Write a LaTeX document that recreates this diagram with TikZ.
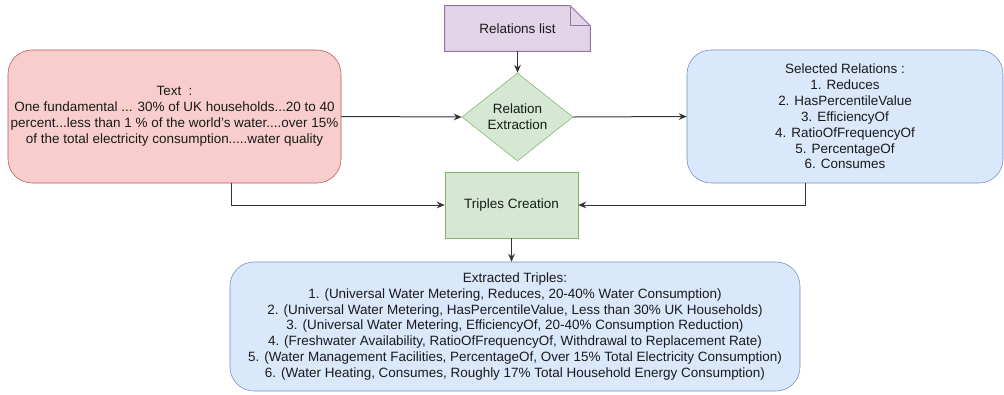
\documentclass[tikz,border=0pt]{standalone}
\usepackage{fontspec}
\setmainfont{Liberation Sans}
\usetikzlibrary{shapes.geometric,arrows.meta}
\definecolor{redfill}{HTML}{F8CECC}\definecolor{redline}{HTML}{B85450}
\definecolor{purfill}{HTML}{E1D5E7}\definecolor{purline}{HTML}{9673A6}
\definecolor{grnfill}{HTML}{D5E8D4}\definecolor{grnline}{HTML}{82B366}
\definecolor{blufill}{HTML}{DAE8FC}\definecolor{bluline}{HTML}{6C8EBF}
\definecolor{txt}{HTML}{1A1A1A}
\tikzset{
  base/.style={align=center, text=txt, font=\fontsize{10.1}{11.9}\selectfont, inner sep=0pt},
  redbox/.style={base, draw=redline, fill=redfill, rounded corners=18pt},
  blubox/.style={base, draw=bluline, fill=blufill, rounded corners=18pt},
  grnbox/.style={base, draw=grnline, fill=grnfill},
  conn/.style={draw=black!80, line width=0.75pt, -{Stealth[length=6pt,width=5pt,inset=2pt]}},
}
\begin{document}
\begin{tikzpicture}[x=0.75pt,y=-0.75pt]
\useasboundingbox (0,0) rectangle (1004,394);
% text box
\node[redbox, minimum width=333*0.75pt, minimum height=133*0.75pt] (text) at (174.5,116.5)
  {Text\ \ :\\One fundamental ... 30\% of UK households...20 to 40\\percent...less than 1 \% of the world's water....over 15\%\\of the total electricity consumption.....water quality};
% relations list (note)
\node[base, minimum width=145*0.75pt, minimum height=45*0.75pt] (rl) at (517.5,28.5) {Relations list};
\draw[draw=purline, fill=purfill, line width=0.75pt]
  (rl.north west) -- ([xshift=-20*0.75pt]rl.north east) -- ([yshift=-20*0.75pt]rl.north east)
  -- (rl.south east) -- (rl.south west) -- cycle;
\draw[draw=purline, line width=0.75pt] ([xshift=-20*0.75pt]rl.north east) |- ([yshift=-20*0.75pt]rl.north east);
\node[base] at (rl.center) {Relations list};
% diamond
\node[grnbox, diamond, minimum width=111*0.75pt, minimum height=88*0.75pt] (re) at (517.5,117) {Relation\\Extraction};
% selected relations
\node[blubox, minimum width=316*0.75pt, minimum height=133*0.75pt] (sel) at (845,116.5)
  {Selected Relations :\\1. Reduces\\2. HasPercentileValue\\3. EfficiencyOf\\4. RatioOfFrequencyOf\\5. PercentageOf\\6. Consumes};
% triples creation
\node[grnbox, minimum width=133*0.75pt, minimum height=66*0.75pt] (tc) at (511.5,205) {Triples Creation};
% extracted triples
\node[blubox, minimum width=570*0.75pt, minimum height=129*0.75pt] (et) at (515,326.5)
  {Extracted Triples:\\
  1. (Universal Water Metering, Reduces, 20-40\% Water Consumption)\\
  2. (Universal Water Metering, HasPercentileValue, Less than 30\% UK Households)\\
  3. (Universal Water Metering, EfficiencyOf, 20-40\% Consumption Reduction)\\
  4. (Freshwater Availability, RatioOfFrequencyOf, Withdrawal to Replacement Rate)\\
  5. (Water Management Facilities, PercentageOf, Over 15\% Total Electricity Consumption)\\
  6. (Water Heating, Consumes, Roughly 17\% Total Household Energy Consumption)};
% connectors
\draw[conn] (rl.south) -- (re.north);
\draw[conn] (text.east) -- (re.west);
\draw[conn] (re.east) -- (sel.west);
\draw[conn] ([xshift=56.5*0.75pt]text.south) |- (tc.west);
\draw[conn] ([xshift=-40*0.75pt]sel.south) |- (tc.east);
\draw[conn] (tc.south) -- (tc.south |- et.north);
\end{tikzpicture}
\end{document}
